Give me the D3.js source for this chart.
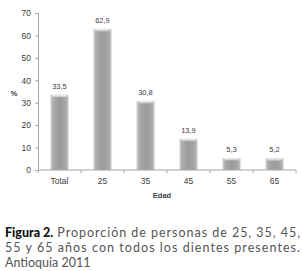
<!DOCTYPE html>
<html>
<head>
<meta charset="utf-8">
<script src="https://cdn.jsdelivr.net/npm/d3@7"></script>
<style>
  body { margin: 0; background: #fff; }
  svg { display: block; }
</style>
</head>
<body>
<svg id="svg" width="302" height="271"></svg>
<script>
const categories = ['Total', '25', '35', '45', '55', '65'];
const values = [33.5, 62.9, 30.8, 13.9, 5.3, 5.2];
const valueLabels = ['33,5', '62,9', '30,8', '13,9', '5,3', '5,2'];
const yTicks = [0, 10, 20, 30, 40, 50, 60, 70];
const captionLines = [
  { bold: 'Figura 2.', rest: 'Proporción de personas de 25, 35, 45,', justify: true },
  { bold: '', rest: '55 y 65 años con todos los dientes presentes.', justify: true },
  { bold: '', rest: 'Antioquia 2011', justify: false }
];

const svg = d3.select('#svg');

const x = d3.scaleBand()
  .domain(categories)
  .range([38, 296])
  .paddingInner(0.58)
  .paddingOuter(0.29);

const y = d3.scaleLinear().domain([0, 70]).range([170, 13]);

// bar gradient
const defs = svg.append('defs');
const grad = defs.append('linearGradient').attr('id', 'barGrad')
  .attr('x1', '0%').attr('x2', '100%').attr('y1', '0%').attr('y2', '0%');
[['0%', '#d2d2d2'], ['15%', '#acacac'], ['50%', '#9a9a9a'], ['85%', '#a8a8a8'], ['100%', '#cbcbcb']]
  .forEach(s => grad.append('stop').attr('offset', s[0]).attr('stop-color', s[1]));
const capGrad = defs.append('linearGradient').attr('id', 'capGrad')
  .attr('x1', '0%').attr('x2', '0%').attr('y1', '0%').attr('y2', '100%');
[['0%', '#f2f2f2'], ['100%', '#bdbdbd']]
  .forEach(s => capGrad.append('stop').attr('offset', s[0]).attr('stop-color', s[1]));

// y axis
const yAxis = svg.append('g')
  .attr('transform', 'translate(38,0)')
  .call(d3.axisLeft(y).tickValues(yTicks).tickSize(3).tickPadding(4));
yAxis.select('.domain').attr('stroke', '#a6a6a6');
yAxis.selectAll('.tick line').attr('stroke', '#a6a6a6');
yAxis.selectAll('.tick text')
  .attr('font-family', 'Liberation Sans, Arial, sans-serif')
  .attr('font-size', 8.5)
  .attr('fill', '#404040');

// bars
const bars = svg.append('g');
bars.selectAll('rect.bar')
  .data(values)
  .enter()
  .append('rect')
  .attr('class', 'bar')
  .attr('x', (d, i) => x(categories[i]))
  .attr('y', d => y(d))
  .attr('width', x.bandwidth())
  .attr('height', d => y(0) - y(d))
  .attr('fill', 'url(#barGrad)');

bars.selectAll('rect.cap')
  .data(values)
  .enter()
  .append('rect')
  .attr('class', 'cap')
  .attr('x', (d, i) => x(categories[i]) + 1)
  .attr('y', d => y(d))
  .attr('width', x.bandwidth() - 2)
  .attr('height', 2.5)
  .attr('rx', 1)
  .attr('fill', 'url(#capGrad)');

// value labels
svg.append('g').selectAll('text')
  .data(values)
  .enter()
  .append('text')
  .attr('x', (d, i) => x(categories[i]) + x.bandwidth() / 2)
  .attr('y', d => y(d) - 6)
  .attr('text-anchor', 'middle')
  .attr('font-family', 'Liberation Sans, Arial, sans-serif')
  .attr('font-size', 7.5)
  .attr('fill', '#404040')
  .text((d, i) => valueLabels[i]);

// x axis
const xAxis = svg.append('g');
xAxis.append('line')
  .attr('x1', 38).attr('x2', 296)
  .attr('y1', y(0)).attr('y2', y(0))
  .attr('stroke', '#a6a6a6');
const gap = (x.step() - x.bandwidth()) / 2;
const bounds = categories.map(c => x(c) - gap).concat([x(categories[categories.length - 1]) + x.bandwidth() + gap]);
xAxis.selectAll('line.tick')
  .data(bounds)
  .enter()
  .append('line')
  .attr('class', 'tick')
  .attr('x1', d => d).attr('x2', d => d)
  .attr('y1', y(0)).attr('y2', y(0) + 3)
  .attr('stroke', '#a6a6a6');
xAxis.selectAll('text')
  .data(categories)
  .enter()
  .append('text')
  .attr('x', d => x(d) + x.bandwidth() / 2)
  .attr('y', 184)
  .attr('text-anchor', 'middle')
  .attr('font-family', 'Liberation Sans, Arial, sans-serif')
  .attr('font-size', 8.5)
  .attr('fill', '#404040')
  .text(d => d);

// axis titles
svg.append('text')
  .attr('x', 14).attr('y', 96)
  .attr('text-anchor', 'middle')
  .attr('font-family', 'Liberation Sans, Arial, sans-serif')
  .attr('font-size', 7.5)
  .attr('font-weight', 'bold')
  .attr('fill', '#404040')
  .text('%');
svg.append('text')
  .attr('x', 162).attr('y', 198)
  .attr('text-anchor', 'middle')
  .attr('font-family', 'Liberation Sans, Arial, sans-serif')
  .attr('font-size', 7.5)
  .attr('font-weight', 'bold')
  .attr('fill', '#404040')
  .text('Edad');

// caption (justified lines)
const caption = svg.append('g')
  .attr('font-family', 'Lato, sans-serif')
  .attr('font-size', 12.5);
captionLines.forEach((line, i) => {
  const by = 237 + i * 15;
  let startX = 5;
  if (line.bold) {
    const b = caption.append('text')
      .attr('x', startX)
      .attr('y', by)
      .attr('font-weight', 900)
      .attr('fill', '#111')
      .text(line.bold);
    startX += b.node().getComputedTextLength() + 4;
  }
  const t = caption.append('text')
    .attr('x', startX)
    .attr('y', by)
    .attr('fill', '#555')
    .text(line.rest);
  if (line.justify) {
    t.attr('textLength', 300 - startX).attr('lengthAdjust', 'spacing');
  }
});
</script>
</body>
</html>
